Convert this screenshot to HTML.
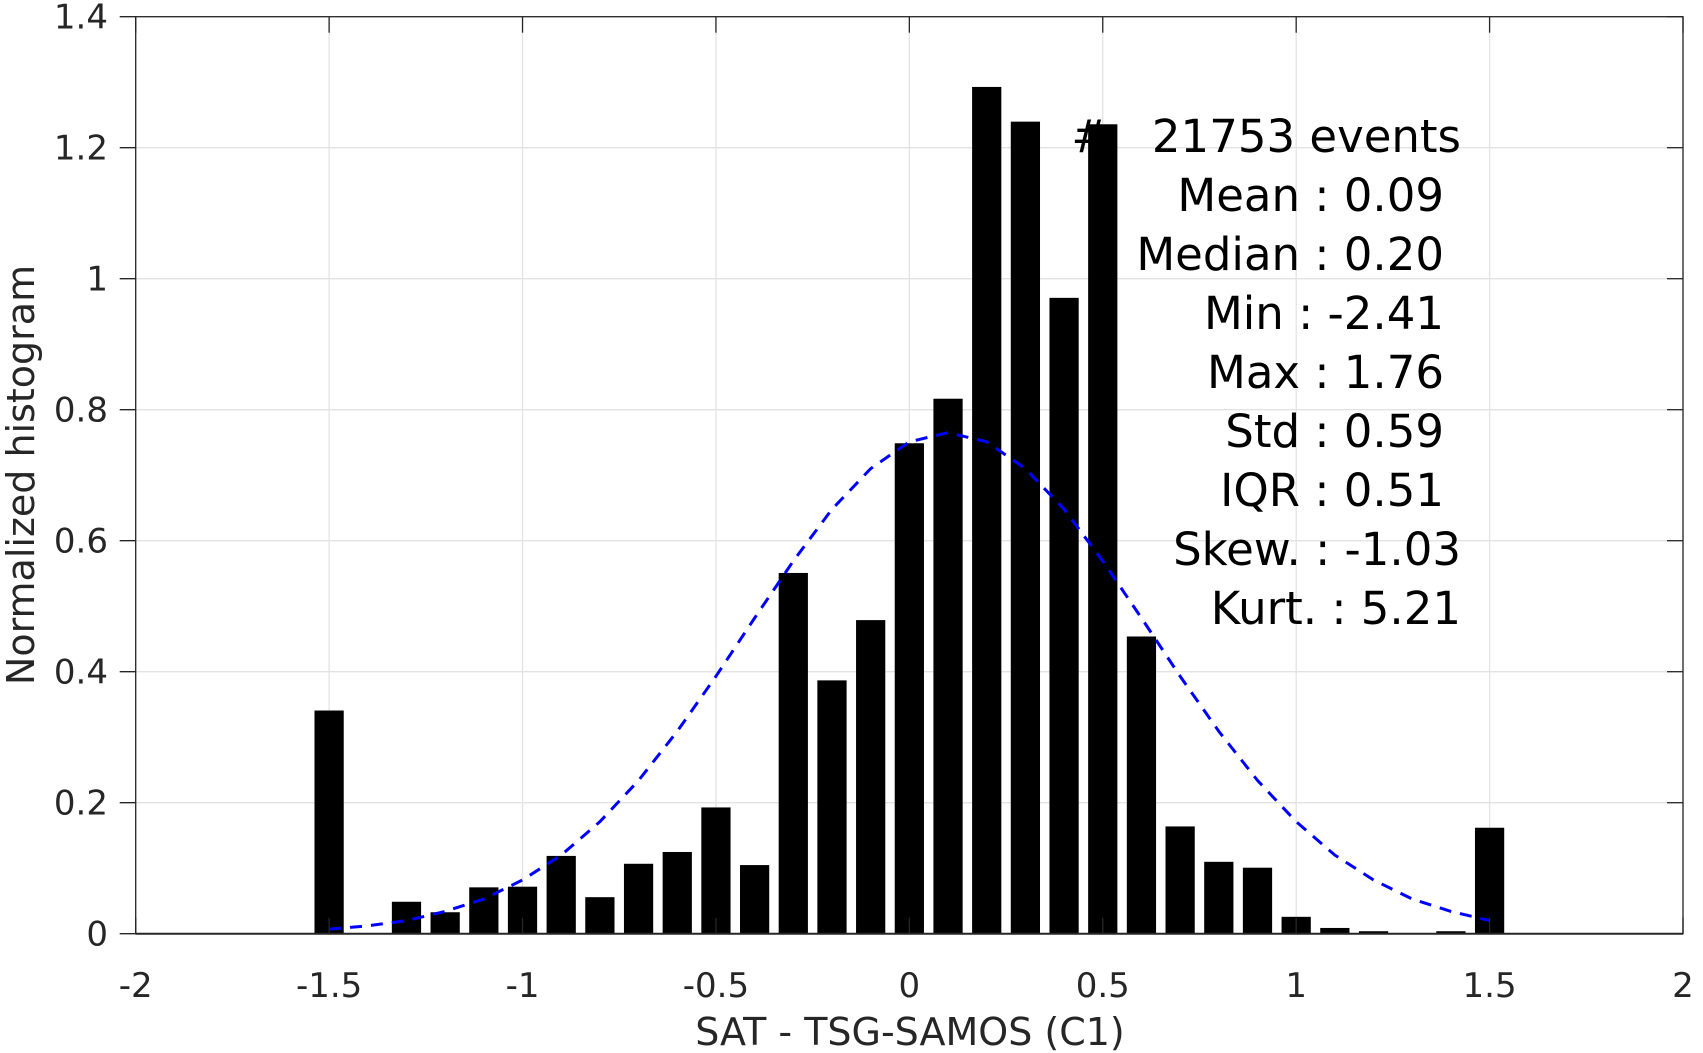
<!DOCTYPE html>
<html><head><meta charset="utf-8"><style>html,body{margin:0;padding:0;background:#fff}svg{display:block}text{font-family:"DejaVu Sans","Liberation Sans",sans-serif}</style></head>
<body>
<svg id="chart" width="1703" height="1053" viewBox="0 0 1703 1053" xmlns="http://www.w3.org/2000/svg">
<g id="grid"></g>
<g id="bars"></g>
<g id="curve"></g>
<g id="axes"></g>
<g font-size="45" fill="#000" text-anchor="end">
<text x="1461" y="152" xml:space="preserve">#   21753 events</text>
<text x="1444" y="211">Mean : 0.09</text>
<text x="1444" y="270">Median : 0.20</text>
<text x="1444" y="329">Min : -2.41</text>
<text x="1444" y="388">Max : 1.76</text>
<text x="1444" y="447">Std : 0.59</text>
<text x="1444" y="506">IQR : 0.51</text>
<text x="1461" y="565">Skew. : -1.03</text>
<text x="1461" y="624">Kurt. : 5.21</text>
</g>
<text x="910" y="1045" font-size="38" fill="#262626" text-anchor="middle">SAT - TSG-SAMOS (C1)</text>
<text transform="translate(34,475) rotate(-90)" font-size="38" fill="#262626" text-anchor="middle">Normalized histogram</text>
</svg>
<script>
const binCenters=[-1.5,-1.4,-1.3,-1.2,-1.1,-1.0,-0.9,-0.8,-0.7,-0.6,-0.5,-0.4,-0.3,-0.2,-0.1,0.0,0.1,0.2,0.3,0.4,0.5,0.6,0.7,0.8,0.9,1.0,1.1,1.2,1.3,1.4,1.5];
const binValues=[0.34,0,0.048,0.032,0.07,0.071,0.118,0.055,0.106,0.124,0.192,0.104,0.55,0.386,0.478,0.748,0.816,1.292,1.239,0.97,1.235,0.453,0.163,0.109,0.1,0.025,0.008,0.003,0,0.003,0.161];
const fitX=[-1.5,-1.4,-1.3,-1.2,-1.1,-1.0,-0.9,-0.8,-0.7,-0.6,-0.5,-0.4,-0.3,-0.2,-0.1,0,0.1,0.2,0.3,0.4,0.5,0.6,0.7,0.8,0.9,1.0,1.1,1.2,1.3,1.4,1.5];
const fitY=[0.007,0.012,0.02,0.034,0.053,0.082,0.12,0.171,0.234,0.309,0.393,0.482,0.569,0.648,0.71,0.751,0.765,0.751,0.71,0.648,0.569,0.482,0.393,0.309,0.234,0.171,0.12,0.082,0.053,0.034,0.02];
const xTicks=[-2,-1.5,-1,-0.5,0,0.5,1,1.5,2];
const xTickLabels=["-2","-1.5","-1","-0.5","0","0.5","1","1.5","2"];
const yTicks=[0,0.2,0.4,0.6,0.8,1,1.2,1.4];
const yTickLabels=["0","0.2","0.4","0.6","0.8","1","1.2","1.4"];

const L=135.7,R=1683,T=16.7,B=933.7,xMin=-2,xMax=2,yMin=0,yMax=1.4;
const X=v=>L+(v-xMin)/(xMax-xMin)*(R-L);
const Y=v=>B-(v-yMin)/(yMax-yMin)*(B-T);
const NS="http://www.w3.org/2000/svg";
function mk(tag,parent,attrs){const e=document.createElementNS(NS,tag);for(const k in attrs)e.setAttribute(k,attrs[k]);parent.appendChild(e);return e;}
const grid=document.getElementById('grid'),bars=document.getElementById('bars'),curve=document.getElementById('curve'),axes=document.getElementById('axes');
xTicks.forEach((t,i)=>{
  const g=mk('line',grid,{x1:X(t),x2:X(t),y1:T,y2:B,stroke:'#e3e3e3','stroke-width':1.3});
  
  
  const tk=mk('line',axes,{x1:X(t),x2:X(t),y1:B,y2:B-16,stroke:'#262626','stroke-width':1.3});
  
  
  const tk2=mk('line',axes,{x1:X(t),x2:X(t),y1:T,y2:T+16,stroke:'#262626','stroke-width':1.3});
  
  
  const tx=mk('text',axes,{x:X(t),y:997,'font-size':34,fill:'#262626','text-anchor':'middle'});
  tx.textContent=xTickLabels[i];
  
  
});
yTicks.forEach((t,i)=>{
  const g=mk('line',grid,{x1:L,x2:R,y1:Y(t),y2:Y(t),stroke:'#e3e3e3','stroke-width':1.3});
  
  
  const tk=mk('line',axes,{x1:L,x2:L-16,y1:Y(t),y2:Y(t),stroke:'#262626','stroke-width':1.3});
  
  
  const tk2=mk('line',axes,{x1:R,x2:R-16,y1:Y(t),y2:Y(t),stroke:'#262626','stroke-width':1.3});
  
  
  const tx=mk('text',axes,{x:108,y:Y(t)+12,'font-size':34,fill:'#262626','text-anchor':'end'});
  tx.textContent=yTickLabels[i];
  
  
});
const bw=0.073;
binCenters.forEach((c,i)=>{
  if(binValues[i]<=0)return;
  const r=mk('rect',bars,{x:X(c-bw/2),y:Y(binValues[i]),width:X(c+bw/2)-X(c-bw/2),height:Y(0)-Y(binValues[i]),fill:'#000',stroke:'#000','stroke-width':1});
  
  
});
const p=mk('polyline',curve,{points:fitX.map((x,i)=>X(x)+','+Y(fitY[i])).join(' '),fill:'none',stroke:'#0000ff','stroke-width':3,'stroke-dasharray':'12,9'});


const box=mk('rect',axes,{x:L,y:T,width:R-L,height:B-T,fill:'none',stroke:'#262626','stroke-width':1.3});


const zl=mk('line',axes,{x1:L,x2:R,y1:B,y2:B,stroke:'#262626','stroke-width':2});


</script>
</body></html>
